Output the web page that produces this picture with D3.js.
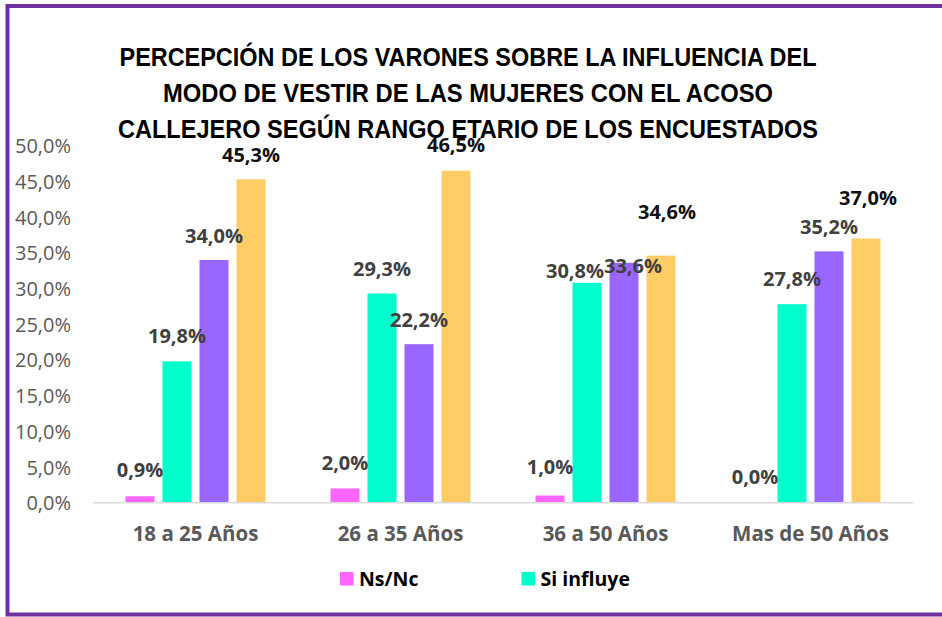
<!DOCTYPE html>
<html>
<head>
<meta charset="utf-8">
<script src="https://cdn.jsdelivr.net/npm/d3@7"></script>
<style>
  html, body { margin: 0; padding: 0; background: #fff; }
  svg { display: block; }
</style>
</head>
<body>
<svg id="chart" width="942" height="617"></svg>
<script>
// ---- data ----
const categories = ["18 a 25 Años", "26 a 35 Años", "36 a 50 Años", "Mas de 50 Años"];
const seriesNames = ["Ns/Nc", "Si influye", "No influye", "Total"];
const nsnc      = [0.9, 2.0, 1.0, 0.0];
const siInfluye = [19.8, 29.3, 30.8, 27.8];
const noInfluye = [34.0, 22.2, 33.6, 35.2];
const total     = [45.3, 46.5, 34.6, 37.0];
const yTicks    = [0, 5, 10, 15, 20, 25, 30, 35, 40, 45, 50];
const titleLines = [
  "PERCEPCIÓN DE LOS VARONES SOBRE LA INFLUENCIA DEL",
  "MODO DE VESTIR DE LAS MUJERES CON EL ACOSO",
  "CALLEJERO SEGÚN RANGO ETARIO DE LOS ENCUESTADOS"
];
const legendShown = ["Ns/Nc", "Si influye"];

// ---- styles / layout ----
const colors = ["#FF66FF", "#00FFCC", "#9966FF", "#FFCC66"];
const labelColors = ["#404040", "#404040", "#404040", "#111111"];
const values = [nsnc, siInfluye, noInfluye, total];
// manual label nudges (px above bar top for label centre), like the original chart
const labelLift = [
  [26, 25, 24, 24],
  [25, 24.5, 24, 25.5],
  [29, 12, -3, 44],
  [25.5, 25, 24.5, 41]
];
const labelDx = [
  [0, 0, 0, 0],
  [0, 0, 0, 0],
  [0, -12, 9, 6],
  [0, 0, 0, 2]
];

const svg = d3.select("#chart");
const fontMain = "'Open Sans', 'Noto Sans', sans-serif";

// frame
svg.append("rect")
  .attr("x", 7.5).attr("y", 6)
  .attr("width", 960).attr("height", 608.5)
  .attr("fill", "none").attr("stroke", "#7030A0").attr("stroke-width", 4);

// title
const titleWidths = [697, 610, 700];
const titleBase = [66, 102, 138];
titleLines.forEach((t, i) => {
  svg.append("text")
    .attr("x", 468).attr("y", titleBase[i])
    .attr("text-anchor", "middle")
    .attr("font-family", "'Liberation Sans Narrow', 'Liberation Sans', sans-serif")
    .attr("font-weight", "bold")
    .attr("font-size", 25)
    .attr("fill", "#000")
    .attr("textLength", titleWidths[i])
    .attr("lengthAdjust", "spacingAndGlyphs")
    .text(t);
});

// scales
const x0 = d3.scaleBand().domain(categories).range([93, 913]).padding(0);
const groupW = 140;
const x1 = d3.scaleBand().domain(seriesNames)
  .range([(x0.bandwidth() - groupW) / 2, (x0.bandwidth() + groupW) / 2])
  .paddingInner(8 / 37).paddingOuter(0);
const y = d3.scaleLinear().domain([0, 50]).range([502.7, 145.7]);

// y axis labels
const yAxis = d3.axisLeft(y).tickValues(yTicks)
  .tickFormat(d => d3.format(".1f")(d).replace(".", ",") + "%")
  .tickSize(0).tickPadding(0);
const yg = svg.append("g").attr("transform", "translate(71,0)").call(yAxis);
yg.select(".domain").remove();
yg.selectAll("text")
  .attr("font-family", fontMain).attr("font-size", 20)
  .attr("fill", "#595959").attr("dy", "0.35em");

// bars
categories.forEach((cat, ci) => {
  const g = svg.append("g").attr("transform", `translate(${x0(cat)},0)`);
  seriesNames.forEach((s, si) => {
    const v = values[si][ci];
    g.append("rect")
      .attr("x", x1(s)).attr("y", y(v))
      .attr("width", x1.bandwidth()).attr("height", y(0) - y(v))
      .attr("fill", colors[si]);
  });
});

// baseline
svg.append("line")
  .attr("x1", 93).attr("x2", 913)
  .attr("y1", y(0)).attr("y2", y(0))
  .attr("stroke", "#D9D9D9").attr("stroke-width", 1.5);

// value labels
categories.forEach((cat, ci) => {
  seriesNames.forEach((s, si) => {
    const v = values[si][ci];
    svg.append("text")
      .attr("x", x0(cat) + x1(s) + x1.bandwidth() / 2 + labelDx[ci][si])
      .attr("y", y(v) - labelLift[ci][si])
      .attr("dy", "0.35em")
      .attr("text-anchor", "middle")
      .attr("font-family", fontMain).attr("font-weight", "bold")
      .attr("font-size", 20)
      .attr("fill", labelColors[si])
      .text(d3.format(".1f")(v).replace(".", ",") + "%");
  });
});

// x axis labels
const xAxis = d3.axisBottom(x0).tickSize(0).tickPadding(0);
const xg = svg.append("g").attr("transform", `translate(0,${y(0)})`).call(xAxis);
xg.select(".domain").remove();
xg.selectAll("text")
  .attr("font-family", fontMain).attr("font-weight", "bold")
  .attr("font-size", 20.5).attr("fill", "#595959")
  .attr("y", 31).attr("dy", "0.35em");

// legend
const legendX = [340, 521.5];
legendShown.forEach((name, i) => {
  const si = seriesNames.indexOf(name);
  svg.append("rect")
    .attr("x", legendX[i]).attr("y", 572)
    .attr("width", 13.5).attr("height", 13.5)
    .attr("fill", colors[si]);
  svg.append("text")
    .attr("x", legendX[i] + 19).attr("y", 579)
    .attr("dy", "0.35em")
    .attr("font-family", fontMain).attr("font-weight", "bold")
    .attr("font-size", 19.5).attr("fill", "#000")
    .text(name);
});
</script>
</body>
</html>
